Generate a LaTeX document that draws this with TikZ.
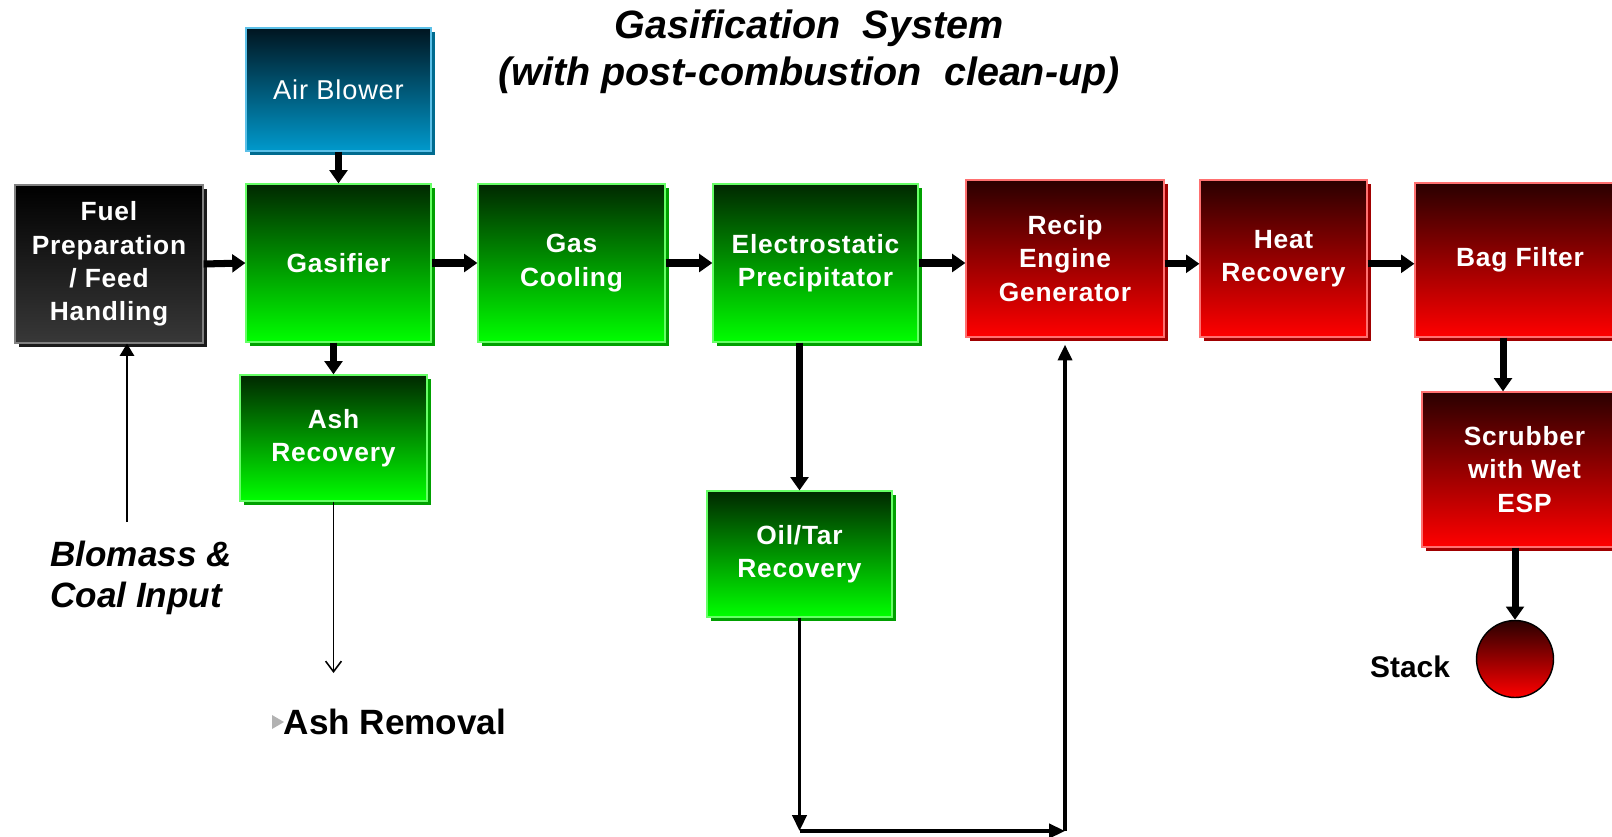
\documentclass[tikz,border=0pt]{standalone}
\usepackage{fontspec}
\setmainfont{Liberation Sans}
\newfontfamily\boxfont[LetterSpace=3]{Liberation Sans}
\usetikzlibrary{arrows.meta,shadows}

\definecolor{grntop}{HTML}{002800}
\definecolor{grnbot}{HTML}{00FF00}
\definecolor{grnline}{HTML}{66FF66}
\definecolor{grnshade}{HTML}{00A000}
\definecolor{redtop}{HTML}{2A0000}
\definecolor{redbot}{HTML}{FF0000}
\definecolor{redline}{HTML}{FF7070}
\definecolor{redshade}{HTML}{A00000}
\definecolor{blutop}{HTML}{001520}
\definecolor{blubot}{HTML}{0099CC}
\definecolor{bluline}{HTML}{5BC0E8}
\definecolor{blushade}{HTML}{006B8F}
\definecolor{blktop}{HTML}{000000}
\definecolor{blkbot}{HTML}{383838}
\definecolor{blkline}{HTML}{808080}
\definecolor{blkshade}{HTML}{1A1A1A}

\begin{document}
\begin{tikzpicture}[x=0.02cm,y=-0.02cm,
  box/.style={draw, line width=0.7pt, text=white, align=center, inner sep=0pt,
    font=\boxfont\bfseries\fontsize{15}{19}\selectfont},
  grnbox/.style={box, draw=grnline, top color=grntop, bottom color=grnbot,
    drop shadow={shadow xshift=2.3pt, shadow yshift=-2.3pt, opacity=1, fill=grnshade}},
  redbox/.style={box, draw=redline, top color=redtop, bottom color=redbot,
    drop shadow={shadow xshift=2.3pt, shadow yshift=-2.3pt, opacity=1, fill=redshade}},
  blubox/.style={box, draw=bluline, top color=blutop, bottom color=blubot,
    drop shadow={shadow xshift=2.3pt, shadow yshift=-2.3pt, opacity=1, fill=blushade}},
  blkbox/.style={box, draw=blkline, top color=blktop, bottom color=blkbot,
    drop shadow={shadow xshift=2.3pt, shadow yshift=-2.3pt, opacity=1, fill=blkshade}},
  flow/.style={line width=4pt, -{Triangle[length=7.5pt,width=10pt]}},
  bypass/.style={line width=2pt, -{Triangle[length=9pt,width=8pt]}},
  ashflow/.style={line width=0.9pt, -{Straight Barb[length=6pt,width=9pt]}},
  lbl/.style={font=\bfseries\itshape\fontsize{20}{23}\selectfont, align=left}]
  \useasboundingbox (0,0) rectangle (1612,837);
  % title
  \node[font=\bfseries\itshape\fontsize{22.5}{27}\selectfont, align=center] (title) at (809,52)
    {Gasification\ \ System\\(with post-combustion\ \ clean-up)};
  % main line
  \node[blkbox, minimum width=3.76cm, minimum height=3.16cm] (fuel) at (109,264) {Fuel\\Preparation\\/ Feed\\Handling};
  \node[blubox, minimum width=3.70cm, minimum height=2.46cm, font=\boxfont\fontsize{15.5}{19}\selectfont] (air) at (338.5,89.5) {Air Blower};
  \node[grnbox, minimum width=3.70cm, minimum height=3.16cm] (gas) at (338.5,263) {Gasifier};
  \node[grnbox, minimum width=3.74cm, minimum height=3.16cm] (cool) at (571.5,263) {Gas\\Cooling};
  \node[grnbox, minimum width=4.10cm, minimum height=3.16cm] (esp) at (815.5,263) {Electrostatic\\Precipitator};
  \node[redbox, minimum width=3.96cm, minimum height=3.14cm] (recip) at (1065,258.5) {Recip\\Engine\\Generator};
  \node[redbox, minimum width=3.34cm, minimum height=3.14cm] (heat) at (1283.5,258.5) {Heat\\Recovery};
  \node[redbox, minimum width=4.20cm, minimum height=3.08cm] (bag) at (1520,260) {Bag Filter};
  % side branches
  \node[grnbox, minimum width=3.74cm, minimum height=2.52cm] (ash) at (333.5,438) {Ash\\Recovery};
  \node[grnbox, minimum width=3.70cm, minimum height=2.52cm] (oil) at (799.5,554) {Oil/Tar\\Recovery};
  \node[redbox, minimum width=4.10cm, minimum height=3.10cm] (scrub) at (1524.5,469.5) {Scrubber\\with Wet\\ESP};
  \node[circle, draw, line width=0.8pt, minimum size=1.54cm, top color=redtop, bottom color=redbot] (stack) at (1515,659) {};
  % labels
  \node[lbl] (input) at (141,578) {Blomass \&\\Coal Input};
  \node[font=\bfseries\fontsize{20}{23}\selectfont] (removal) at (395,722) {Ash Removal};
  \node[font=\bfseries\fontsize{17}{20}\selectfont] (stacklbl) at (1410,667) {Stack};
  \fill[gray!60] (272,715) -- (284,722) -- (272,729) -- cycle;
  % connectors
  \draw[flow] (air.south) -- (gas.north);
  \draw[flow] (fuel.east) -- (gas.west);
  \draw[flow] (gas.east) -- (cool.west);
  \draw[flow] (cool.east) -- (esp.west);
  \draw[flow] (esp.east) -- (esp.east -| recip.west);
  \draw[flow] ([yshift=-3pt]recip.east) -- ([yshift=-3pt]heat.west);
  \draw[flow] ([yshift=-3pt]heat.east) -- ([yshift=-3pt]heat.east -| bag.west);
  \draw[flow] (ash.north |- gas.south) -- (ash.north);
  \draw[flow] (oil.north |- esp.south) -- (oil.north);
  \draw[flow] ([xshift=-0.34cm]bag.south) -- ([xshift=-0.34cm]bag.south |- scrub.north);
  \draw[flow] (scrub.south -| stack.north) -- (stack.north);
  \coordinate (feed) at (127,522);
  \draw[line width=1.5pt, -{Triangle[length=7pt,width=8pt]}] (feed) -- (feed |- fuel.south);
  \coordinate (ashout) at (333.5,673);
  \draw[ashflow] (ash.south) -- (ashout);
  \coordinate (oilend) at (799.5,831);
  \coordinate (turn) at (1065,831);
  \draw[bypass] (oil.south) -- (oilend);
  \draw[bypass] (oilend) -- (turn);
  \draw[bypass] (turn) -- ([yshift=-4pt]recip.south);
\end{tikzpicture}
\end{document}
